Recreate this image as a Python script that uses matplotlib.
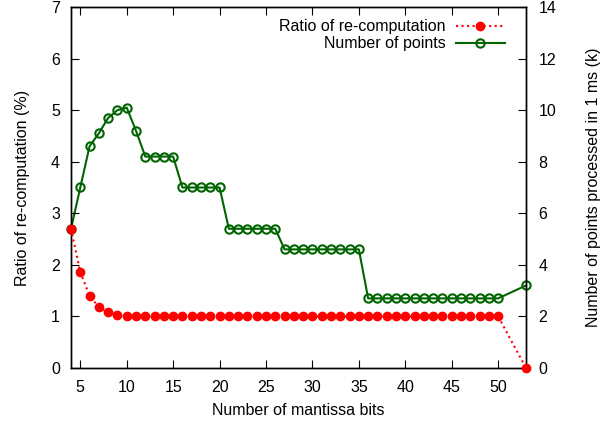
import matplotlib
matplotlib.use("Agg")
import matplotlib.pyplot as plt

plt.rcParams["font.family"] = ["Liberation Sans", "DejaVu Sans"]
plt.rcParams["font.size"] = 11.5

# mantissa bits (4..50, then 53)
bits = list(range(4, 51)) + [53]

# ratio of re-computation (%) on the left axis
ratio = [2.7, 1.86, 1.40, 1.18, 1.08, 1.03, 1.01] + [1.0] * 40 + [0.0]

# number of points processed in 1 ms (k) on the right axis
points = ([5.4, 7.0, 8.6, 9.1, 9.7, 10.0, 10.1, 9.2]
          + [8.2] * 4      # 12-15
          + [7.0] * 5      # 16-20
          + [5.4] * 6      # 21-26
          + [4.6] * 9      # 27-35
          + [2.7] * 15     # 36-50
          + [3.2])         # 53

fig = plt.figure(figsize=(6.11, 4.23), dpi=100)
ax = fig.add_axes([71 / 611, 55 / 423, 455 / 611, 361 / 423])
ax2 = ax.twinx()

l1, = ax.plot(bits, ratio, color="#ff0000", linestyle=":", linewidth=1.5,
              marker="o", markersize=6, clip_on=False, zorder=3,
              label="Ratio of re-computation")
l2, = ax2.plot(bits, points, color="#006400", linestyle="-", linewidth=1.5,
               marker="o", markersize=6, markerfacecolor="none",
               markeredgewidth=1.5, clip_on=False,
               label="Number of points")

ax.set_xlim(4, 53)
ax.set_ylim(0, 7)
ax2.set_ylim(0, 14)
ax.set_xticks(range(5, 51, 5))
ax.set_yticks(range(0, 8))
ax2.set_yticks(range(0, 15, 2))

ax.tick_params(axis="x", direction="in", top=True, length=6, pad=8.5)
ax.tick_params(axis="y", direction="in", length=6, pad=8)
ax2.tick_params(axis="y", direction="in", length=6, pad=9)

ax.set_xlabel("Number of mantissa bits", labelpad=6)
ax.set_ylabel("Ratio of re-computation (%)", labelpad=15)
ax2.set_ylabel("Number of points processed in 1 ms (k)", labelpad=21)

for a in (ax, ax2):
    for s in a.spines.values():
        s.set_linewidth(1.0)

ax2.set_zorder(ax.get_zorder() - 1)
ax.patch.set_visible(False)

ax.legend(handles=[l1, l2], loc="upper right", frameon=False, markerfirst=False,
          numpoints=1, handlelength=3.1, borderaxespad=0, borderpad=0,
          labelspacing=0.12, handletextpad=0.63,
          bbox_to_anchor=(0.954, 0.966))

fig.savefig("out.png", dpi=100)
